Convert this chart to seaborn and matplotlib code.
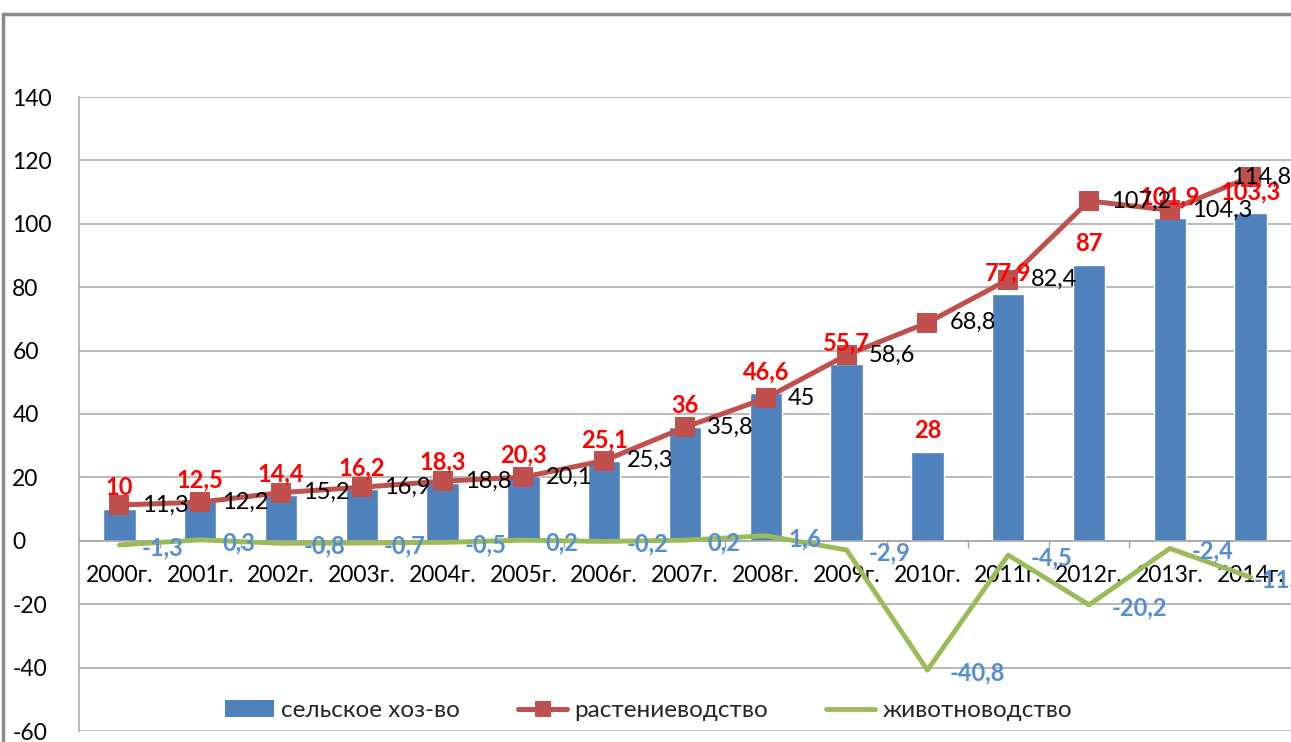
import numpy as np
import pandas as pd
import matplotlib
matplotlib.use("Agg")
import matplotlib.pyplot as plt
from matplotlib.lines import Line2D
from matplotlib.patches import Patch
import seaborn as sns

years = ["2000г.", "2001г.", "2002г.", "2003г.", "2004г.", "2005г.", "2006г.",
         "2007г.", "2008г.", "2009г.", "2010г.", "2011г.", "2012г.", "2013г.", "2014г."]
agri = [10, 12.5, 14.4, 16.2, 18.3, 20.3, 25.1, 36, 46.6, 55.7, 28, 77.9, 87, 101.9, 103.3]
crop = [11.3, 12.2, 15.2, 16.9, 18.8, 20.1, 25.3, 35.8, 45, 58.6, 68.8, 82.4, 107.2, 104.3, 114.8]
livestock = [-1.3, 0.3, -0.8, -0.7, -0.5, 0.2, -0.2, 0.2, 1.6, -2.9, -40.8, -4.5, -20.2, -2.4, -11.5]
series_names = ["сельское хоз-во", "растениеводство", "животноводство"]
yticks = list(range(-60, 141, 20))

BAR_C = "#4F81BD"
RED_C = "#C0504D"
GREEN_C = "#9BBB59"
BLUE_LBL = "#558ED5"
GRID_C = "#A6A6A6"

sns.set_theme(style="white")
plt.rcParams["font.family"] = ["Lato", "DejaVu Sans"]

W, H = 1291, 742
fig = plt.figure(figsize=(W / 100, H / 100), dpi=100)
L, R, T, B = 79, 1291, 97, 731
ax = fig.add_axes([L / W, (H - B) / H, (R - L) / W, (B - T) / H])

df = pd.DataFrame({"year": years, "agri": agri, "crop": crop, "livestock": livestock,
                   "pos": np.arange(len(years))})

sns.barplot(data=df, x="year", y="agri", color=BAR_C, saturation=1, width=0.4, ax=ax, zorder=2)
sns.lineplot(data=df, x="pos", y="livestock", color=GREEN_C, linewidth=3.5, ax=ax, zorder=3)
sns.lineplot(data=df, x="pos", y="crop", color=RED_C, linewidth=3.6, marker="s",
             markersize=15, markeredgewidth=0, ax=ax, zorder=4)

ax.set_xlim(-0.5, len(years) - 0.5)
ax.set_ylim(-60, 140)
ax.set_xlabel("")
ax.set_ylabel("")

# grid
ax.set_yticks(yticks)
ax.set_yticklabels([str(v) for v in yticks])
ax.yaxis.grid(True, color=GRID_C, linewidth=1.1, zorder=0)
ax.set_axisbelow(True)
ax.tick_params(axis="y", length=6.5, width=1, color=GRID_C, pad=41.5, labelsize=16.5, labelcolor="#000000")
for tl in ax.get_yticklabels():
    tl.set_ha("left")

ax.spines["top"].set_visible(False)
ax.spines["right"].set_visible(False)
ax.spines["left"].set_color(GRID_C)
ax.spines["left"].set_linewidth(1.1)
ax.spines["bottom"].set_position(("data", 0))
ax.spines["bottom"].set_color(GRID_C)
ax.spines["bottom"].set_linewidth(1.1)

ax.set_xticks(np.arange(len(years)))
ax.set_xticklabels(years)
ax.set_xticks(np.arange(len(years) - 1) + 0.5, minor=True)
ax.tick_params(axis="x", which="major", length=0, pad=17.5, labelsize=16.5, labelcolor="#000000")
ax.tick_params(axis="x", which="minor", length=5, width=1, color=GRID_C, bottom=True)

def fmt(v):
    return f"{v:g}".replace(".", ",")

# data labels
for i, v in enumerate(agri):
    ax.annotate(fmt(v), (i, v), xytext=(0, 7), textcoords="offset points",
                ha="center", va="bottom", color="#FF0000", fontsize=17, fontweight="bold", zorder=6)
n = len(crop)
for i, v in enumerate(crop):
    if i == n - 1:
        # last label pushed inside the chart area, as in the reference
        ax.annotate(fmt(v), xy=(1.0, v), xycoords=ax.get_yaxis_transform(),
                    ha="right", va="center", color="#000000", fontsize=17, zorder=6)
    else:
        ax.annotate(fmt(v), (i, v), xytext=(16, 0), textcoords="offset points",
                    ha="left", va="center", color="#000000", fontsize=17, zorder=6)
for i, v in enumerate(livestock):
    dx = 2 if i == n - 1 else 16
    ax.annotate(fmt(v), (i, v), xytext=(dx, -2), textcoords="offset points",
                ha="left", va="center", color=BLUE_LBL, fontsize=17, fontweight="bold", zorder=6)

handles = [Patch(facecolor=BAR_C, edgecolor="none"),
           Line2D([], [], color=RED_C, linewidth=3.6, marker="s", markersize=12, markeredgewidth=0),
           Line2D([], [], color=GREEN_C, linewidth=3.5)]
ax.legend(handles, series_names, ncol=3, loc="center", bbox_to_anchor=(0.47, 0.032),
          frameon=False, fontsize=17.5, handlelength=2.0, handletextpad=0.3, columnspacing=2.4)

# outer frame (cropped chart border)
fig.add_artist(Line2D([3 / W, 1], [1 - 14 / H, 1 - 14 / H], color="#8C8C8C", linewidth=2.5,
                      transform=fig.transFigure))
fig.add_artist(Line2D([3 / W, 3 / W], [0, 1 - 14 / H], color="#8C8C8C", linewidth=2.5,
                      transform=fig.transFigure))

fig.savefig("out.png", dpi=100)
